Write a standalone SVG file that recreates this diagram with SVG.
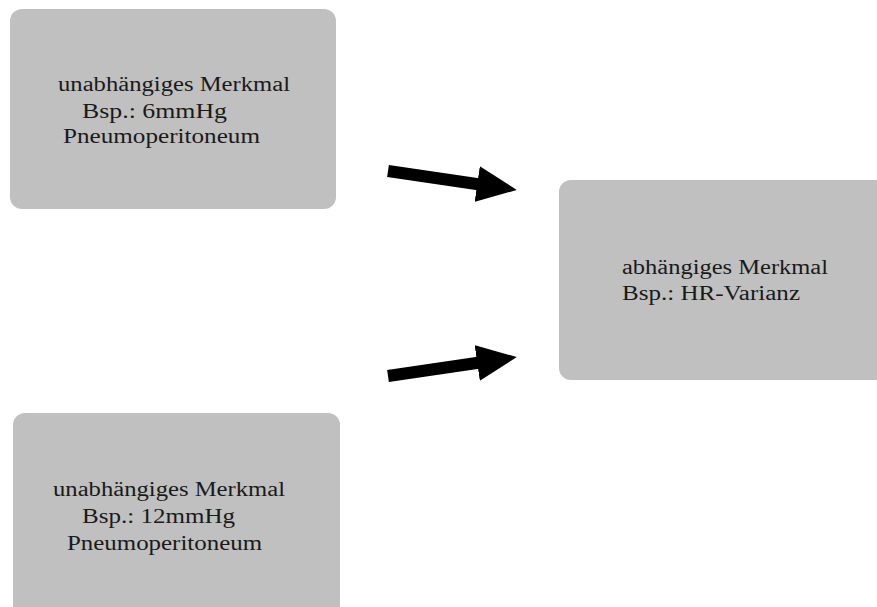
<svg xmlns="http://www.w3.org/2000/svg" width="877" height="607" viewBox="0 0 877 607">
<style>
.box{fill:#c0c0c0}
.t{font-family:"Liberation Serif","Times New Roman",serif;font-size:20px;fill:#1a1a1a}
.arr{stroke:#000;stroke-width:12;fill:none}
</style>
<defs>
<marker id="ah" markerUnits="userSpaceOnUse" viewBox="0 0 40 36" refX="20" refY="18" markerWidth="40" markerHeight="36" orient="auto">
<path d="M0,0 L40,18 L0,36 z" fill="#000"/>
</marker>
</defs>
<rect width="877" height="607" fill="#fff"/>
<g id="node-indep1">
<rect class="box" x="10" y="9" width="326" height="200" rx="12"/>
<text class="t" x="58" y="91" textLength="232" lengthAdjust="spacingAndGlyphs">unabhängiges Merkmal</text>
<text class="t" x="82" y="118" textLength="145" lengthAdjust="spacingAndGlyphs">Bsp.:  6mmHg</text>
<text class="t" x="63" y="143" textLength="197" lengthAdjust="spacingAndGlyphs">Pneumoperitoneum</text>
</g>
<g id="node-dep">
<rect class="box" x="559" y="180" width="330" height="200" rx="12"/>
<text class="t" x="622" y="274" textLength="206" lengthAdjust="spacingAndGlyphs">abhängiges Merkmal</text>
<text class="t" x="622" y="300" textLength="178" lengthAdjust="spacingAndGlyphs">Bsp.: HR-Varianz</text>
</g>
<g id="node-indep2">
<rect class="box" x="13" y="413" width="327" height="210" rx="12"/>
<text class="t" x="53" y="496" textLength="232" lengthAdjust="spacingAndGlyphs">unabhängiges Merkmal</text>
<text class="t" x="82" y="523" textLength="153" lengthAdjust="spacingAndGlyphs">Bsp.: 12mmHg</text>
<text class="t" x="67" y="550" textLength="195" lengthAdjust="spacingAndGlyphs">Pneumoperitoneum</text>
</g>
<g id="connectors">
<line class="arr" x1="388" y1="171" x2="497" y2="187" marker-end="url(#ah)"/>
<line class="arr" x1="388" y1="376" x2="497" y2="360" marker-end="url(#ah)"/>
</g>
</svg>
